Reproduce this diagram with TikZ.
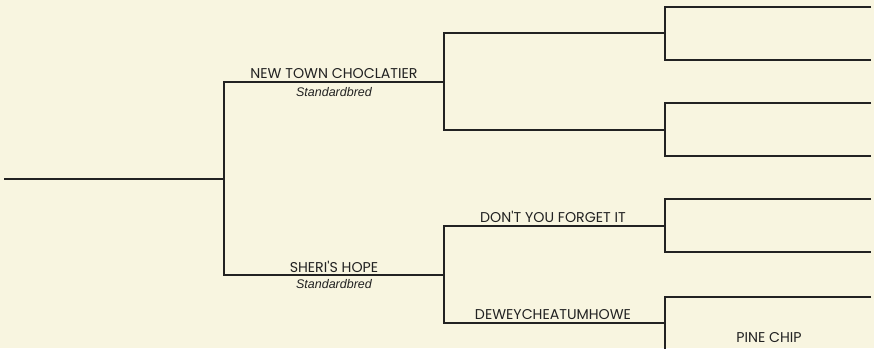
\documentclass[tikz,border=0pt]{standalone}
\usepackage{fontspec}
\setmainfont{Poppins}
\newfontfamily\breedfont{Liberation Sans}
\definecolor{bg}{HTML}{F8F5E0}
\definecolor{ink}{HTML}{222222}
\begin{document}
\begin{tikzpicture}[x=1pt,y=-1pt,
  link/.style={draw=ink,line width=1.4pt},
  horse/.style={anchor=base,inner sep=0pt,font=\fontsize{14.2}{14}\selectfont,text=ink},
  breed/.style={anchor=base,inner sep=0pt,font=\breedfont\itshape\fontsize{12.5}{12}\selectfont,text=ink}]
\fill[bg] (0,0) rectangle (874,348);
\useasboundingbox (0,0) rectangle (874,348);
% coordinates
\coordinate (r0) at (4,179);
\coordinate (r1) at (224,179);
\coordinate (s0) at (224,82);  \coordinate (s1) at (444,82);
\coordinate (d0) at (224,275); \coordinate (d1) at (444,275);
\coordinate (ss0) at (444,33);  \coordinate (ss1) at (665,33);
\coordinate (sd0) at (444,130); \coordinate (sd1) at (665,130);
\coordinate (ds0) at (444,226); \coordinate (ds1) at (665,226);
\coordinate (dd0) at (444,323); \coordinate (dd1) at (665,323);
\foreach \n/\y in {a/7,b/60,c/103,e/156,f/199,g/252,h/297,i/350}{
  \coordinate (\n0) at (665,\y); \coordinate (\n1) at (871,\y);
}
% lines
\draw[link] (r0) -- (r1);
\draw[link] (s1) -- (s0) -- (d0) -- (d1);
\draw[link] (ss1) -- (ss0) -- (sd0) -- (sd1);
\draw[link] (ds1) -- (ds0) -- (dd0) -- (dd1);
\draw[link] (a1) -- (a0) -- (b0) -- (b1);
\draw[link] (c1) -- (c0) -- (e0) -- (e1);
\draw[link] (f1) -- (f0) -- (g0) -- (g1);
\draw[link] (h1) -- (h0) -- (i0) -- (i1);
% labels
\node[horse] (sire) at (334,78) {NEW TOWN CHOCLATIER};
\node[breed] (sireb) at (334,96) {Standardbred};
\node[horse] (dam) at (334,272) {SHERI\textquotesingle S HOPE};
\node[breed] (damb) at (334,288) {Standardbred};
\node[horse] (dsire) at (553,222) {DON\textquotesingle T YOU FORGET IT};
\node[horse] (ddam) at (553,319) {DEWEYCHEATUMHOWE};
\node[horse] (ddsire) at (769,342) {PINE CHIP};
\end{tikzpicture}
\end{document}
